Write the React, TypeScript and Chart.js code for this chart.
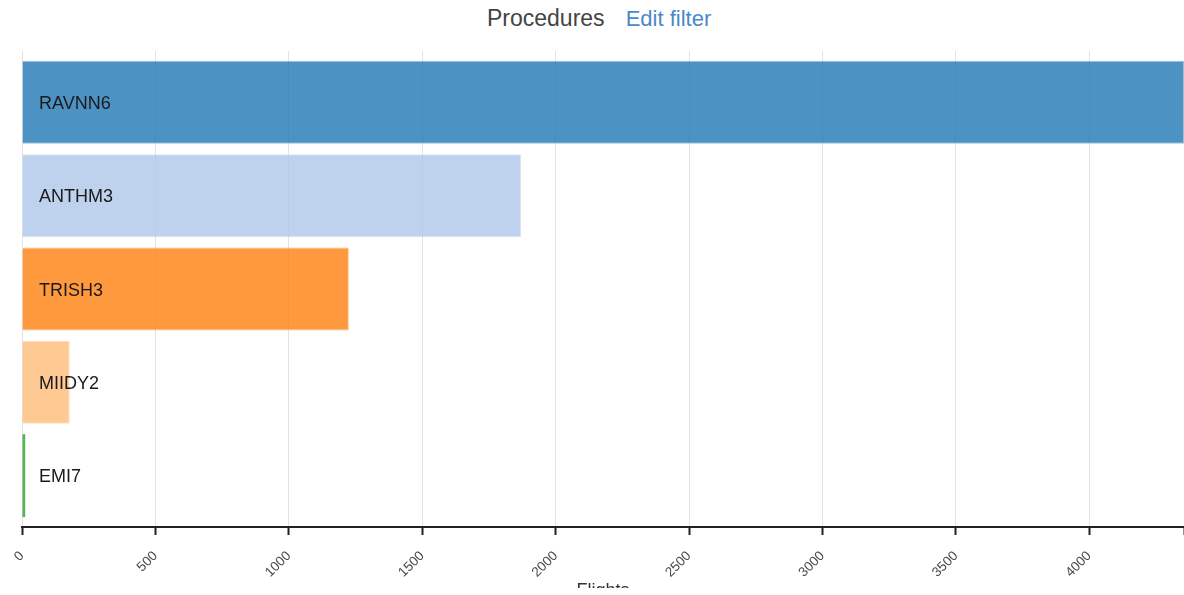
import React, { useEffect, useRef } from "react";
import { Chart, registerables } from "chart.js";

Chart.register(...registerables);

const categories = ["RAVNN6", "ANTHM3", "TRISH3", "MIIDY2", "EMI7"];
const flights = [4355, 1871, 1225, 179, 12];
const tickValues = [0, 500, 1000, 1500, 2000, 2500, 3000, 3500, 4000];
const barColors = [
  "rgba(31,119,180,0.8)",
  "rgba(174,199,232,0.8)",
  "rgba(255,127,14,0.8)",
  "rgba(255,187,120,0.8)",
  "rgba(44,160,44,0.8)",
];
const borderColors = [
  "rgba(31,119,180,0.45)",
  "rgba(174,199,232,0.45)",
  "rgba(255,127,14,0.45)",
  "rgba(255,187,120,0.45)",
  "rgba(44,160,44,0.8)",
];
const chartTitle = "Procedures";
const linkText = "Edit filter";
const axisTitle = "Flights";

const FONT = "'Liberation Sans', Arial, sans-serif";

const barLabelPlugin = {
  id: "barLabels",
  afterDatasetsDraw(chart: any) {
    const ctx = chart.ctx;
    const meta = chart.getDatasetMeta(0);
    ctx.save();
    ctx.font = `18px ${FONT}`;
    ctx.fillStyle = "#1a1a1a";
    ctx.textAlign = "left";
    ctx.textBaseline = "alphabetic";
    meta.data.forEach((bar: any, i: number) => {
      ctx.fillText(categories[i], chart.chartArea.left + 17, bar.y + 6.5);
    });
    ctx.restore();
  },
};

export default function App() {
  const canvasRef = useRef<HTMLCanvasElement | null>(null);

  useEffect(() => {
    if (!canvasRef.current) return;
    const xMax = Math.max(...flights);
    const yMin = -0.55;
    const yMax = categories.length - 0.45;
    const chart = new Chart(canvasRef.current, {
      type: "bar",
      data: {
        labels: categories,
        datasets: [
          {
            data: flights.map((v, i) => ({ x: v, y: i })) as any,
            backgroundColor: barColors,
            borderColor: borderColors,
            borderWidth: [1, 1, 1, 1, 0] as any,
            barPercentage: 0.889,
            categoryPercentage: 1,
          },
        ],
      },
      options: {
        indexAxis: "y",
        animation: false,
        responsive: false,
        maintainAspectRatio: false,
        layout: { padding: { left: 22, right: 0, top: 51, bottom: 0 } },
        plugins: {
          legend: { display: false },
          tooltip: { enabled: false },
          title: { display: false },
        },
        scales: {
          y: {
            type: "linear",
            display: false,
            reverse: true,
            offset: false,
            grid: { offset: false },
            min: yMin,
            max: yMax,
            afterBuildTicks(scale: any) {
              scale.ticks = categories.map((_, i) => ({ value: i }));
              scale.min = yMin;
              scale.max = yMax;
            },
          },
          x: {
            type: "linear",
            min: 0,
            max: xMax,
            afterBuildTicks(scale: any) {
              scale.ticks = [...tickValues, xMax].map((v) => ({ value: v }));
            },
            afterFit(scale: any) {
              scale.paddingLeft = 0;
              scale.paddingRight = 0;
              scale.height = 75;
            },
            grid: {
              color: "#e3e3e3",
              lineWidth: 1,
              drawTicks: true,
              tickLength: 8,
              tickColor: "#222",
              tickWidth: 2,
            },
            border: { display: true, color: "#222", width: 2 },
            ticks: {
              minRotation: 45,
              maxRotation: 45,
              autoSkip: false,
              padding: 13,
              color: "#4a4a4a",
              font: { family: FONT, size: 13.5 },
              callback: (v: any) => (tickValues.includes(Number(v)) ? String(v) : ""),
            },
            title: {
              display: true,
              text: axisTitle,
              color: "#333",
              font: { family: FONT, size: 18 },
              padding: { top: 0, bottom: 0 },
            },
          },
        },
      },
      plugins: [barLabelPlugin],
    });
    return () => chart.destroy();
  }, []);

  return (
    <div
      style={{
        position: "fixed",
        left: 0,
        top: 0,
        width: 1184,
        height: 588,
        overflow: "hidden",
        background: "#fff",
      }}
    >
      <div
        style={{
          position: "absolute",
          left: 487,
          top: 7,
          whiteSpace: "nowrap",
          fontFamily: FONT,
          lineHeight: "23px",
        }}
      >
        <span style={{ color: "#444", fontSize: 23 }}>{chartTitle}</span>
        <span style={{ color: "#4a89c8", fontSize: 22, marginLeft: 21 }}>{linkText}</span>
      </div>
      <canvas
        ref={canvasRef}
        width={1184}
        height={602}
        style={{ position: "absolute", left: 0, top: 0, width: 1184, height: 602 }}
      />
    </div>
  );
}
